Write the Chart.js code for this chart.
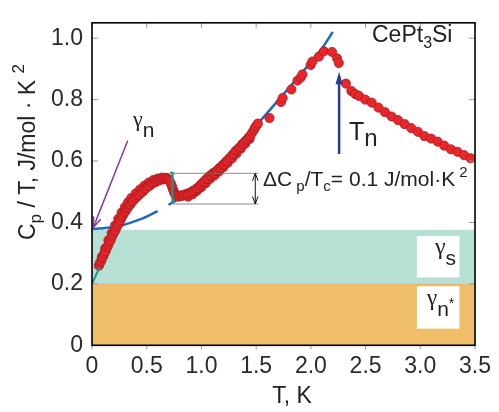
<!DOCTYPE html>
<html>
<head>
<meta charset="utf-8">
<script src="https://cdn.jsdelivr.net/npm/chart.js@4.4.1/dist/chart.umd.min.js"></script>
<style>
  html, body { margin: 0; padding: 0; background: #fff; }
</style>
</head>
<body>
<canvas id="chartCp" width="499" height="412"></canvas>
<script>
const FONT = "'Liberation Sans', Arial, Helvetica, sans-serif";
const SERIF = "'Liberation Serif', 'DejaVu Serif', serif";

// measured C/T of CePt3Si (T in K, C/T in J/mol K^2)
const tempK = [
  0.063, 0.072, 0.082, 0.092, 0.103, 0.113, 0.124, 0.136, 0.148, 0.159,
  0.170, 0.182, 0.193, 0.205, 0.216, 0.228, 0.239, 0.250, 0.262, 0.273,
  0.284, 0.296, 0.307, 0.318, 0.329, 0.341, 0.352, 0.363, 0.374, 0.389,
  0.404, 0.419, 0.434, 0.449, 0.464, 0.479, 0.495, 0.510, 0.525, 0.540,
  0.555, 0.570, 0.585, 0.600, 0.615, 0.630, 0.645, 0.660, 0.675, 0.690,
  0.703, 0.714, 0.724, 0.733, 0.742, 0.750, 0.759, 0.768, 0.778, 0.790,
  0.803, 0.818, 0.833, 0.848, 0.863, 0.878, 0.893, 0.908, 0.923, 0.938,
  0.953, 0.968, 0.983, 0.998, 1.013, 1.028, 1.043, 1.058, 1.073, 1.088,
  1.103, 1.118, 1.133, 1.148, 1.163, 1.178, 1.193, 1.208, 1.223, 1.238,
  1.253, 1.268, 1.283, 1.298, 1.313, 1.328, 1.343, 1.358, 1.373, 1.388,
  1.403, 1.418, 1.433, 1.448, 1.463, 1.478, 1.490, 1.500, 1.516,
  1.622, 1.727, 1.742, 1.822, 1.878, 1.908, 1.923, 1.998, 2.014, 2.074,
  2.119, 2.194, 2.240, 2.255,
  2.320, 2.370, 2.405, 2.440, 2.496, 2.556, 2.617, 2.677, 2.737, 2.797,
  2.857, 2.918, 2.978, 3.038, 3.099, 3.159, 3.219, 3.280, 3.340, 3.400, 3.460,
];
const cpT = [
  0.259, 0.268, 0.273, 0.283, 0.290, 0.300, 0.306, 0.318, 0.326, 0.336,
  0.342, 0.354, 0.362, 0.370, 0.376, 0.387, 0.393, 0.402, 0.408, 0.418,
  0.424, 0.433, 0.436, 0.445, 0.449, 0.457, 0.459, 0.467, 0.470, 0.478,
  0.480, 0.488, 0.491, 0.498, 0.500, 0.508, 0.511, 0.518, 0.519, 0.526,
  0.527, 0.533, 0.532, 0.538, 0.537, 0.542, 0.540, 0.544, 0.542, 0.543,
  0.538, 0.532, 0.524, 0.515, 0.506, 0.498, 0.492, 0.488, 0.486, 0.484,
  0.487, 0.486, 0.490, 0.488, 0.493, 0.492, 0.497, 0.498, 0.503, 0.504,
  0.510, 0.512, 0.519, 0.523, 0.530, 0.533, 0.541, 0.543, 0.551, 0.553,
  0.560, 0.561, 0.567, 0.570, 0.577, 0.579, 0.587, 0.590, 0.598, 0.600,
  0.608, 0.612, 0.620, 0.624, 0.633, 0.636, 0.643, 0.646, 0.655, 0.658,
  0.666, 0.670, 0.678, 0.682, 0.692, 0.700, 0.708, 0.714, 0.722,
  0.740, 0.792, 0.805, 0.833, 0.862, 0.872, 0.882, 0.913, 0.924, 0.940,
  0.957, 0.955, 0.934, 0.919,
  0.852, 0.828, 0.818, 0.812, 0.800, 0.790, 0.774, 0.759, 0.745, 0.733,
  0.720, 0.707, 0.695, 0.681, 0.673, 0.663, 0.650, 0.638, 0.630, 0.619, 0.609,
];

// second cooling run, below 1.5 K only
const tempK2 = [
  0.09, 0.12, 0.15, 0.18, 0.21, 0.24, 0.27, 0.30, 0.33, 0.36,
  0.40, 0.44, 0.48, 0.52, 0.56, 0.60, 0.64, 0.68,
  0.88, 0.92, 0.96, 1.00, 1.04, 1.08, 1.12, 1.16, 1.20, 1.24,
  1.28, 1.32, 1.36, 1.40, 1.44,
];
const cpT2 = [
  0.288, 0.315, 0.342, 0.366, 0.390, 0.412, 0.432, 0.450, 0.466, 0.480,
  0.495, 0.508, 0.520, 0.530, 0.538, 0.543, 0.546, 0.545,
  0.484, 0.492, 0.503, 0.515, 0.528, 0.542, 0.553, 0.566, 0.580, 0.594,
  0.609, 0.624, 0.640, 0.656, 0.672,
];

// normal-state curve (null = not drawn)
const fitT  = [0, 0.1, 0.2, 0.3, 0.4, 0.5, 0.6, 0.65, 0.70, 0.74, 0.77, 1.1, 1.45, 1.6, 1.8, 2.0, 2.1, 2.2];
const fitCp = [0.379, 0.381, 0.385, 0.393, 0.405, 0.419, 0.437, null, 0.457, 0.466, 0.472, null, 0.695, 0.756, 0.838, 0.922, 0.966, 1.02];

const gammaS = 0.376;     // top of the teal band
const gammaNStar = 0.2;   // top of the orange band
const jumpLow = 0.46;
const jumpHigh = 0.56;    // jump = 0.1
const tN = 2.258;

const xTickStep = 0.5;
const yTickStep = 0.2;

const pts = (xs, ys) => xs.map((x, i) => ({ x, y: ys[i] }));

function arrowHead(ctx, x1, y1, x2, y2, len, spread, filled) {
  const ang = Math.atan2(y2 - y1, x2 - x1);
  const ax = x2 - len * Math.cos(ang - spread), ay = y2 - len * Math.sin(ang - spread);
  const bx = x2 - len * Math.cos(ang + spread), by = y2 - len * Math.sin(ang + spread);
  ctx.beginPath();
  ctx.moveTo(ax, ay);
  ctx.lineTo(x2, y2);
  ctx.lineTo(bx, by);
  if (filled) { ctx.closePath(); ctx.fill(); } else ctx.stroke();
}

function line(ctx, x1, y1, x2, y2) {
  ctx.beginPath();
  ctx.moveTo(x1, y1);
  ctx.lineTo(x2, y2);
  ctx.stroke();
}

// draws text pieces [text, size, dy, family] one after another
function richText(ctx, x, y, parts, align) {
  let w = 0;
  parts.forEach(([s, size, , fam]) => { ctx.font = `${size}px ${fam || FONT}`; w += ctx.measureText(s).width; });
  let cx = align === 'center' ? x - w / 2 : x;
  ctx.textAlign = 'left';
  ctx.textBaseline = 'alphabetic';
  parts.forEach(([s, size, dy, fam]) => {
    ctx.font = `${size}px ${fam || FONT}`;
    ctx.fillText(s, cx, y + dy);
    cx += ctx.measureText(s).width;
  });
}

const annotations = {
  id: 'annotations',
  afterDatasetsDraw(chart) {
    const { ctx, chartArea: a, scales: { x, y } } = chart;
    const px = (v) => x.getPixelForValue(v);
    const py = (v) => y.getPixelForValue(v);
    ctx.save();

    // white label boxes in the bands
    ctx.fillStyle = '#fff';
    ctx.fillRect(px(2.969), py(0.356), px(3.358) - px(2.969), py(0.221) - py(0.356));
    ctx.fillRect(px(2.969), py(0.192), px(3.358) - px(2.969), py(0.054) - py(0.192));
    ctx.fillStyle = '#222';
    richText(ctx, 435, 254, [['γ', 24, 0, SERIF], ['s', 21, 11]]);
    richText(ctx, 427, 305, [['γ', 23, 0, SERIF], ['n', 21, 11], ['*', 14, 3]]);

    // ΔCp bracket
    ctx.strokeStyle = '#111';
    ctx.fillStyle = '#111';
    ctx.lineWidth = 1;
    const bx = px(1.492);
    line(ctx, bx, py(jumpLow) - 1, bx, py(jumpHigh) + 1);
    arrowHead(ctx, bx, py(jumpLow) - 10, bx, py(jumpHigh), 8, 0.35, false);
    arrowHead(ctx, bx, py(jumpHigh) + 10, bx, py(jumpLow), 8, 0.35, false);

    // γn arrow
    ctx.strokeStyle = '#8b35a6';
    ctx.lineWidth = 1.5;
    const g0 = [px(0.326), py(0.666)], g1 = [px(0.012), py(0.384)];
    line(ctx, g0[0], g0[1], g1[0], g1[1]);
    arrowHead(ctx, g0[0], g0[1], g1[0], g1[1], 11, 0.35, false);

    // Tn arrow
    ctx.strokeStyle = '#2b3990';
    ctx.fillStyle = '#2b3990';
    ctx.lineWidth = 2.5;
    line(ctx, px(tN), py(0.623), px(tN), py(0.87));
    arrowHead(ctx, px(tN), py(0.7), px(tN), py(0.891), 13, 0.28, true);

    // texts
    ctx.fillStyle = '#222';
    richText(ctx, 372, 41.5, [['CePt', 23, 0], ['3', 16, 6], ['Si', 23, 0]]);
    richText(ctx, 349, 140, [['T', 25, 0], ['n', 24, 6]]);
    richText(ctx, 133, 126, [['γ', 22, 0, SERIF], ['n', 21, 11]]);
    richText(ctx, 263, 186, [['ΔC', 21, 0], [' p', 15, 5], ['/T', 21, 0], ['c', 15, 5],
      ['= 0.1 J/mol·K', 21, 0], [' 2', 15, -9]]);

    // axis titles
    richText(ctx, 292, 403, [['T, K', 23, 0]], 'center');
    ctx.translate(35, 152);
    ctx.rotate(-Math.PI / 2);
    richText(ctx, 0, 0, [['C', 23, 0], ['p', 17, 6], [' / T, J/mol · K ', 23, 0], ['2', 17, -11]], 'center');
    ctx.restore();

    // frame and tick marks
    ctx.save();
    ctx.strokeStyle = '#9a9a9a';
    ctx.lineWidth = 1;
    x.ticks.forEach((t) => {
      const p = px(t.value);
      line(ctx, p, a.top, p, a.top + 5);
      line(ctx, p, a.bottom, p, a.bottom + 4);
    });
    y.ticks.forEach((t) => {
      const p = py(t.value);
      line(ctx, a.left, p, a.left + 6, p);
      line(ctx, a.right - 6, p, a.right, p);
    });
    ctx.strokeStyle = '#000';
    ctx.lineWidth = 1.6;
    ctx.strokeRect(a.left, a.top, a.right - a.left, a.bottom - a.top);
    ctx.restore();
  },
};

const tickFmt = (v) => (v === 0 ? '0' : Number(v).toFixed(1));

const dotStyle = {
  showLine: false,
  pointRadius: 4.6,
  pointBackgroundColor: '#e8262b',
  pointBorderColor: '#a81c1e',
  pointBorderWidth: 0.8,
  order: 1,
};

new Chart(document.getElementById('chartCp'), {
  type: 'line',
  data: {
    datasets: [
      {
        label: 'jump marker',
        data: [{ x: 0.71, y: jumpHigh + 0.002 }, { x: 0.738, y: jumpHigh + 0.002 }, { x: 0.734, y: jumpLow },
          { x: 0.5, y: null }, { x: 0, y: gammaNStar }, { x: 0.07, y: 0.255 }],
        borderColor: '#1a9b8c',
        borderWidth: 2,
        pointRadius: 0,
        fill: false,
        order: 0,
      },
      {
        label: 'jump levels',
        data: [{ x: 0.74, y: jumpHigh }, { x: 1.52, y: jumpHigh }, { x: 1.52, y: null },
          { x: 0.74, y: jumpLow }, { x: 1.52, y: jumpLow }],
        borderColor: 'rgba(110,110,110,0.8)',
        borderWidth: 1,
        pointRadius: 0,
        fill: false,
        order: 0,
      },
      { label: 'C/T', data: pts(tempK, cpT), ...dotStyle },
      { label: 'C/T run 2', data: pts(tempK2, cpT2), ...dotStyle },
      {
        label: 'normal state',
        data: pts(fitT, fitCp),
        borderColor: '#2268c2',
        borderWidth: 2.5,
        pointRadius: 0,
        tension: 0.4,
        cubicInterpolationMode: 'monotone',
        fill: false,
        order: 2,
      },
      {
        label: 'gamma s',
        data: [{ x: 0, y: gammaS }, { x: 3.5, y: gammaS }],
        borderWidth: 0,
        pointRadius: 0,
        backgroundColor: '#b5e0d3',
        fill: { value: gammaNStar },
        order: 3,
      },
      {
        label: 'gamma n*',
        data: [{ x: 0, y: gammaNStar }, { x: 3.5, y: gammaNStar }],
        borderColor: '#e3aa62',
        borderWidth: 1,
        pointRadius: 0,
        backgroundColor: '#f0bd6b',
        fill: 'origin',
        order: 4,
      },
    ],
  },
  options: {
    responsive: false,
    animation: false,
    events: [],
    layout: { padding: { top: 5, right: 19.7, left: 0, bottom: 0 } },
    plugins: { legend: { display: false }, tooltip: { enabled: false } },
    scales: {
      x: {
        type: 'linear',
        min: 0,
        max: 3.5,
        grid: { display: false, drawTicks: false },
        border: { display: false },
        ticks: { stepSize: xTickStep, padding: 8, color: '#2a2a2a', font: { family: FONT, size: 23 }, callback: tickFmt, maxRotation: 0 },
        afterFit: (s) => { s.height = 66.7; },
      },
      y: {
        min: 0,
        max: 1.05,
        grid: { display: false, drawTicks: false },
        border: { display: false },
        ticks: { stepSize: yTickStep, includeBounds: false, padding: 9, color: '#2a2a2a', font: { family: FONT, size: 23 }, callback: tickFmt },
        afterFit: (s) => { s.width = 92; },
      },
    },
  },
  plugins: [annotations],
});
</script>
</body>
</html>
